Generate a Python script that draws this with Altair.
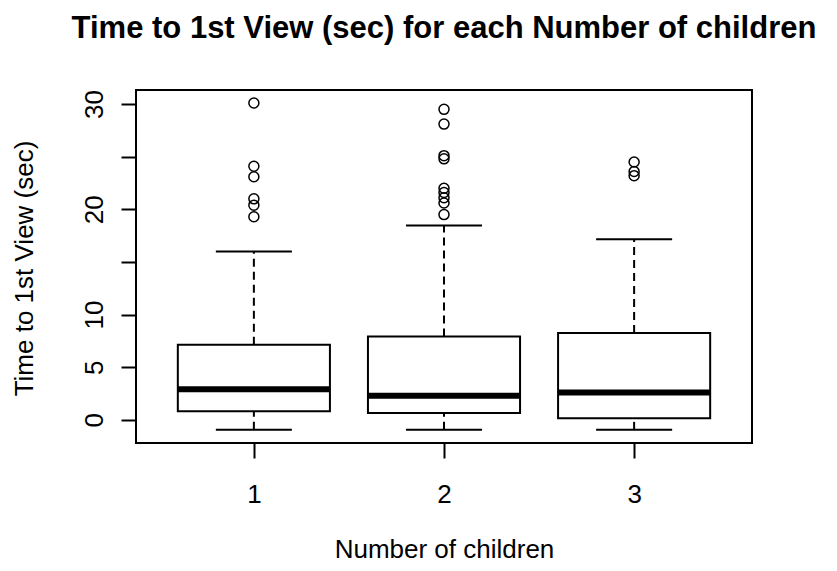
import altair as alt
import pandas as pd

# ---- data ----
groups = [1, 2, 3]
whisker_low = [-0.95, -0.95, -0.95]
q1 = [0.82, 0.66, 0.16]
median = [2.91, 2.28, 2.60]
q3 = [7.13, 7.93, 8.24]
whisker_high = [16.0, 18.46, 17.15]
outliers_1 = [30.1, 24.1, 23.1, 21.0, 20.4, 19.3]
outliers_2 = [29.5, 28.1, 25.1, 24.8, 22.0, 21.6, 21.1, 20.6, 19.5]
outliers_3 = [24.5, 23.6, 23.2]

y_ticks = [0, 5, 10, 15, 20, 25, 30]

BOX_HALF = 0.4
CAP_HALF = 0.2
FONT = "Liberation Sans"

stats = pd.DataFrame({
    "g": groups,
    "lo": whisker_low,
    "q1": q1,
    "med": median,
    "q3": q3,
    "hi": whisker_high,
})
stats["bl"] = stats["g"] - BOX_HALF
stats["br"] = stats["g"] + BOX_HALF
stats["cl"] = stats["g"] - CAP_HALF
stats["cr"] = stats["g"] + CAP_HALF

out_rows = []
for g, vals in zip(groups, [outliers_1, outliers_2, outliers_3]):
    for v in vals:
        out_rows.append({"g": g, "v": v})
outs = pd.DataFrame(out_rows)

xscale = alt.Scale(domain=[0.38, 3.62], nice=False, zero=False)
yscale = alt.Scale(domain=[-2.2, 31.34], nice=False, zero=False)

x_axis = alt.Axis(
    values=groups, format="d", grid=False, domain=False,
    tickSize=15, tickWidth=2, tickColor="black",
    labelFont=FONT, labelFontSize=26, labelColor="black",
    labelPadding=23, labelBaseline="top", labelAlign="center",
    title="Number of children", titleFont=FONT, titleFontSize=26,
    titleFontWeight="normal", titleColor="black",
    titleX=308, titleY=114, titleBaseline="alphabetic", titleAlign="center",
)
y_axis = alt.Axis(
    values=y_ticks, grid=False, domain=False,
    labelExpr="(datum.value == 15 || datum.value == 25) ? '' : datum.label",
    tickSize=15, tickWidth=2, tickColor="black",
    labelFont=FONT, labelFontSize=26, labelColor="black",
    labelAngle=270, labelAlign="center", labelBaseline="middle",
    labelPadding=27,
    title="Time to 1st View (sec)", titleFont=FONT, titleFontSize=26,
    titleFontWeight="normal", titleColor="black",
    titleAngle=270, titleX=-112, titleY=178, titleAlign="center",
    titleBaseline="middle",
)

base = alt.Chart(stats)

upper = base.mark_rule(color="black", strokeWidth=2, strokeDash=[8, 5]).encode(
    x=alt.X("g:Q", scale=xscale, axis=x_axis),
    y=alt.Y("q3:Q", scale=yscale, axis=y_axis),
    y2="hi:Q",
)
lower = base.mark_rule(color="black", strokeWidth=2, strokeDash=[8, 5]).encode(
    x=alt.X("g:Q", scale=xscale),
    y=alt.Y("lo:Q", scale=yscale),
    y2="q1:Q",
)
cap_hi = base.mark_rule(color="black", strokeWidth=2).encode(
    x=alt.X("cl:Q", scale=xscale), x2="cr:Q", y=alt.Y("hi:Q", scale=yscale)
)
cap_lo = base.mark_rule(color="black", strokeWidth=2).encode(
    x=alt.X("cl:Q", scale=xscale), x2="cr:Q", y=alt.Y("lo:Q", scale=yscale)
)
box = base.mark_rect(fill="white", stroke="black", strokeWidth=2).encode(
    x=alt.X("bl:Q", scale=xscale), x2="br:Q",
    y=alt.Y("q1:Q", scale=yscale), y2="q3:Q",
)
med = base.mark_rule(color="black", strokeWidth=6, strokeCap="butt").encode(
    x=alt.X("bl:Q", scale=xscale), x2="br:Q", y=alt.Y("med:Q", scale=yscale)
)
pts = alt.Chart(outs).mark_point(
    shape="circle", filled=False, color="black", size=100, strokeWidth=1.5, opacity=1
).encode(
    x=alt.X("g:Q", scale=xscale),
    y=alt.Y("v:Q", scale=yscale),
)

chart = alt.layer(upper, lower, cap_hi, cap_lo, box, med, pts).properties(
    width=616,
    height=353,
    autosize=alt.AutoSizeParams(type="none"),
    padding={"left": 128, "top": 82, "right": 77, "bottom": 120},
    title=alt.TitleParams(
        text="Time to 1st View (sec) for each Number of children",
        font=FONT, fontSize=31, fontWeight="bold", color="black",
        anchor="middle", frame="group", offset=45,
    ),
    background="white",
).configure_view(
    stroke="black", strokeWidth=2
)

chart.save("out.html", embed_options={"renderer": "svg", "actions": False})
